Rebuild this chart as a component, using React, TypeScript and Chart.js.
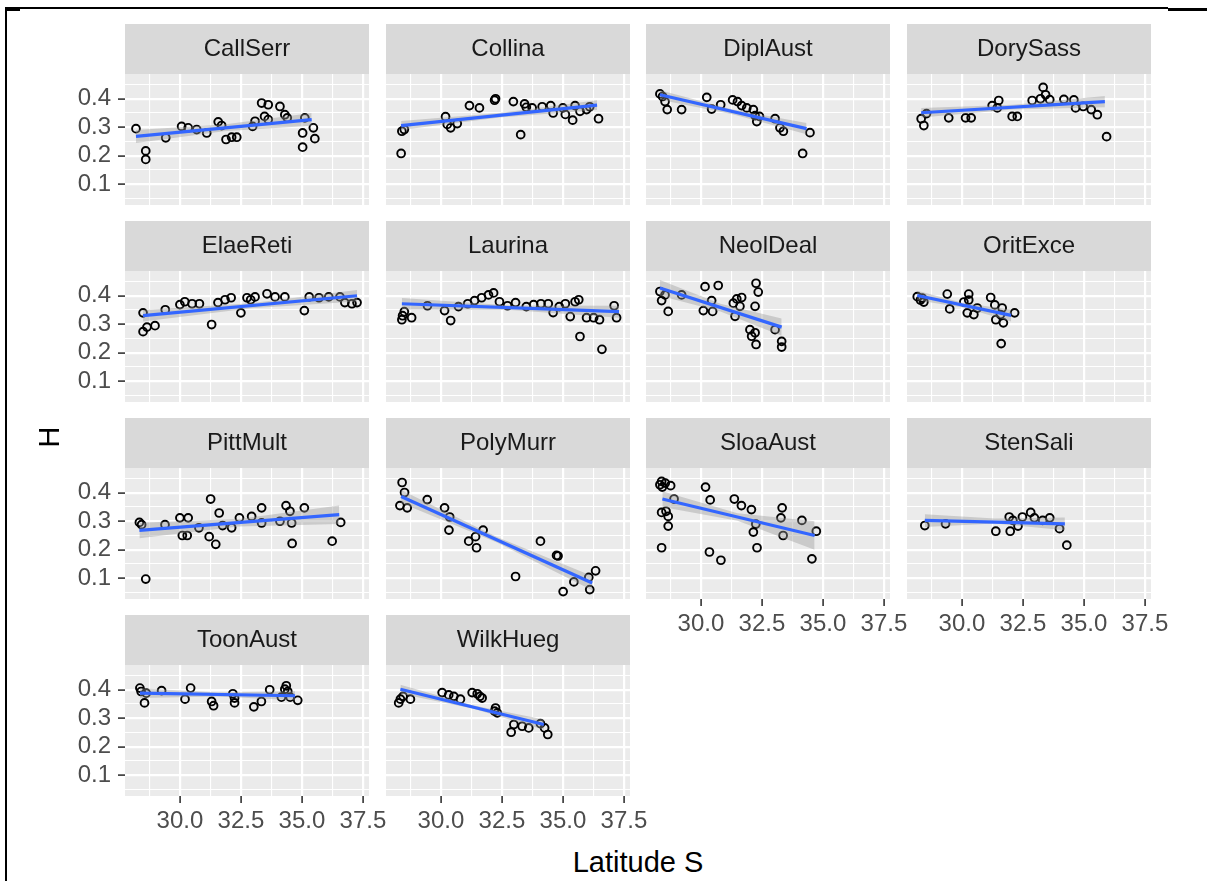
import React, { useEffect, useRef } from 'react';
import { Chart, registerables } from 'chart.js';

Chart.register(...registerables);

// ---------- data ----------
const latCallSerr = [28.2, 28.6, 28.6, 29.42, 30.07, 30.34, 30.69, 31.1, 31.57, 31.71, 31.89, 32.12, 32.33, 32.98, 33.08, 33.35, 33.47, 33.62, 33.62, 34.1, 34.3, 34.4, 35.12, 35.47, 35.03, 35.53, 35.03];
const hCallSerr = [0.295, 0.217, 0.187, 0.263, 0.303, 0.298, 0.292, 0.28, 0.319, 0.306, 0.257, 0.265, 0.265, 0.303, 0.321, 0.385, 0.338, 0.379, 0.327, 0.373, 0.344, 0.333, 0.333, 0.298, 0.28, 0.26, 0.23];
const fitXCallSerr = [28.2, 35.4];
const fitYCallSerr = [0.268, 0.327];
const bandXCallSerr = [28.2, 31.8, 35.4];
const bandHiCallSerr = [0.29, 0.31, 0.35];
const bandLoCallSerr = [0.245, 0.286, 0.305];

const latCollina = [28.37, 28.4, 28.5, 30.19, 30.26, 30.4, 30.67, 31.17, 31.58, 32.24, 32.2, 32.97, 33.27, 33.43, 33.5, 33.74, 34.15, 34.5, 34.6, 35.0, 35.1, 35.4, 35.5, 35.7, 35.97, 36.1, 36.46];
const hCollina = [0.208, 0.286, 0.292, 0.337, 0.31, 0.298, 0.313, 0.376, 0.368, 0.4, 0.395, 0.39, 0.274, 0.382, 0.37, 0.368, 0.372, 0.376, 0.35, 0.368, 0.345, 0.325, 0.376, 0.356, 0.362, 0.372, 0.33];
const fitXCollina = [28.37, 36.4];
const fitYCollina = [0.306, 0.378];
const bandXCollina = [28.37, 32.4, 36.4];
const bandHiCollina = [0.322, 0.35, 0.395];
const bandLoCollina = [0.29, 0.334, 0.361];

const latDiplAust = [28.32, 28.43, 28.53, 28.62, 29.21, 30.24, 30.44, 30.81, 31.3, 31.5, 31.67, 31.88, 32.15, 32.22, 32.29, 32.4, 33.04, 33.24, 33.38, 34.17, 34.47];
const hDiplAust = [0.417, 0.408, 0.39, 0.362, 0.362, 0.405, 0.364, 0.379, 0.396, 0.39, 0.376, 0.368, 0.362, 0.341, 0.32, 0.338, 0.33, 0.298, 0.286, 0.208, 0.281];
const fitXDiplAust = [28.32, 34.33];
const fitYDiplAust = [0.414, 0.295];
const bandXDiplAust = [28.32, 31.3, 34.33];
const bandHiDiplAust = [0.43, 0.362, 0.315];
const bandLoDiplAust = [0.397, 0.346, 0.275];

const latDorySass = [28.33, 28.44, 28.55, 29.46, 30.15, 30.38, 31.24, 31.51, 31.45, 32.06, 32.27, 32.88, 33.22, 33.33, 33.43, 33.6, 34.18, 34.59, 34.66, 34.97, 35.3, 35.55, 35.93];
const hDorySass = [0.33, 0.306, 0.348, 0.333, 0.333, 0.333, 0.376, 0.394, 0.368, 0.338, 0.338, 0.394, 0.4, 0.44, 0.414, 0.397, 0.398, 0.396, 0.368, 0.373, 0.362, 0.344, 0.267];
const fitXDorySass = [28.33, 35.86];
const fitYDorySass = [0.351, 0.39];
const bandXDorySass = [28.33, 32.1, 35.86];
const bandHiDorySass = [0.368, 0.379, 0.41];
const bandLoDorySass = [0.334, 0.362, 0.37];

const latElaeReti = [28.49, 28.65, 28.98, 28.49, 29.4, 30.0, 30.2, 30.5, 30.8, 31.3, 31.56, 31.85, 32.1, 32.5, 32.75, 32.9, 33.08, 33.57, 33.9, 34.3, 35.1, 35.3, 35.7, 36.1, 36.56, 36.76, 37.05, 37.26];
const hElaeReti = [0.274, 0.29, 0.295, 0.34, 0.351, 0.369, 0.379, 0.372, 0.372, 0.299, 0.376, 0.386, 0.393, 0.34, 0.393, 0.386, 0.396, 0.407, 0.396, 0.396, 0.348, 0.396, 0.393, 0.396, 0.396, 0.376, 0.372, 0.376];
const fitXElaeReti = [28.49, 37.26];
const fitYElaeReti = [0.33, 0.4];
const bandXElaeReti = [28.49, 32.9, 37.26];
const bandHiElaeReti = [0.35, 0.374, 0.42];
const bandLoElaeReti = [0.31, 0.356, 0.38];

const latLaurina = [28.4, 28.43, 28.5, 28.8, 29.45, 30.15, 30.4, 30.72, 31.1, 31.38, 31.67, 31.95, 32.16, 32.4, 32.73, 33.06, 33.5, 33.8, 34.1, 34.4, 34.6, 34.85, 35.1, 35.3, 35.5, 35.65, 35.7, 35.97, 36.26, 36.5, 36.6, 37.1, 37.2];
const hLaurina = [0.316, 0.33, 0.344, 0.323, 0.365, 0.348, 0.313, 0.362, 0.372, 0.383, 0.393, 0.403, 0.41, 0.379, 0.365, 0.376, 0.362, 0.369, 0.372, 0.372, 0.341, 0.362, 0.372, 0.327, 0.379, 0.386, 0.257, 0.323, 0.323, 0.316, 0.212, 0.365, 0.323];
const fitXLaurina = [28.4, 37.3];
const fitYLaurina = [0.372, 0.344];
const bandXLaurina = [28.4, 32.85, 37.3];
const bandHiLaurina = [0.392, 0.366, 0.365];
const bandLoLaurina = [0.352, 0.35, 0.323];

const latNeolDeal = [28.32, 28.39, 28.53, 28.66, 29.21, 30.17, 30.71, 30.1, 30.44, 30.48, 31.33, 31.47, 31.67, 31.4, 31.6, 32.22, 32.26, 32.35, 32.01, 32.22, 32.08, 32.26, 33.04, 33.31, 33.31];
const hNeolDeal = [0.415, 0.383, 0.403, 0.345, 0.403, 0.432, 0.436, 0.348, 0.383, 0.345, 0.374, 0.389, 0.394, 0.328, 0.363, 0.363, 0.444, 0.413, 0.281, 0.27, 0.258, 0.229, 0.281, 0.24, 0.22];
const fitXNeolDeal = [28.32, 33.31];
const fitYNeolDeal = [0.427, 0.29];
const bandXNeolDeal = [28.32, 30.8, 33.31];
const bandHiNeolDeal = [0.455, 0.372, 0.32];
const bandLoNeolDeal = [0.4, 0.345, 0.26];

const latOritExce = [28.17, 28.3, 28.37, 28.44, 29.4, 29.5, 30.08, 30.22, 30.28, 30.28, 30.49, 30.63, 31.18, 31.35, 31.39, 31.58, 31.61, 31.65, 31.7, 32.16];
const hOritExce = [0.397, 0.385, 0.392, 0.378, 0.406, 0.354, 0.378, 0.34, 0.406, 0.385, 0.334, 0.357, 0.394, 0.368, 0.316, 0.334, 0.232, 0.357, 0.305, 0.34];
const fitXOritExce = [28.17, 32.02];
const fitYOritExce = [0.401, 0.331];
const bandXOritExce = [28.17, 30.1, 32.02];
const bandHiOritExce = [0.418, 0.374, 0.352];
const bandLoOritExce = [0.384, 0.358, 0.31];

const latPittMult = [28.34, 28.43, 28.6, 29.39, 30.0, 30.1, 30.3, 30.34, 30.78, 31.2, 31.26, 31.47, 31.61, 31.75, 32.12, 32.44, 32.94, 33.35, 33.35, 34.1, 34.35, 34.51, 34.58, 34.6, 35.1, 36.24, 36.59];
const hPittMult = [0.296, 0.288, 0.097, 0.288, 0.312, 0.25, 0.25, 0.312, 0.277, 0.246, 0.378, 0.219, 0.329, 0.285, 0.277, 0.312, 0.317, 0.347, 0.294, 0.3, 0.355, 0.335, 0.294, 0.222, 0.347, 0.23, 0.296];
const fitXPittMult = [28.34, 36.53];
const fitYPittMult = [0.268, 0.323];
const bandXPittMult = [28.34, 32.4, 36.53];
const bandHiPittMult = [0.295, 0.308, 0.355];
const bandLoPittMult = [0.24, 0.282, 0.29];

const latPolyMurr = [28.32, 28.41, 28.51, 28.62, 29.44, 30.15, 30.33, 30.36, 31.14, 31.42, 31.46, 31.73, 33.06, 34.08, 34.74, 34.8, 35.01, 35.45, 36.06, 36.1, 36.34];
const hPolyMurr = [0.355, 0.436, 0.401, 0.347, 0.376, 0.347, 0.269, 0.315, 0.23, 0.246, 0.207, 0.269, 0.106, 0.23, 0.18, 0.178, 0.053, 0.087, 0.103, 0.06, 0.126];
const fitXPolyMurr = [28.37, 36.2];
const fitYPolyMurr = [0.387, 0.083];
const bandXPolyMurr = [28.37, 32.3, 36.2];
const bandHiPolyMurr = [0.41, 0.245, 0.108];
const bandLoPolyMurr = [0.364, 0.225, 0.058];

const latSloaAust = [28.32, 28.39, 28.42, 28.54, 28.76, 28.9, 28.39, 28.57, 28.66, 28.66, 28.39, 30.19, 30.38, 30.35, 30.82, 31.37, 31.66, 32.07, 32.15, 32.25, 32.3, 33.33, 33.28, 33.37, 34.14, 34.55, 34.73];
const hSloaAust = [0.428, 0.44, 0.42, 0.434, 0.425, 0.378, 0.331, 0.335, 0.317, 0.283, 0.207, 0.42, 0.375, 0.192, 0.163, 0.378, 0.355, 0.341, 0.262, 0.29, 0.207, 0.347, 0.312, 0.25, 0.303, 0.168, 0.265];
const fitXSloaAust = [28.42, 34.66];
const fitYSloaAust = [0.378, 0.25];
const bandXSloaAust = [28.42, 31.5, 34.66];
const bandHiSloaAust = [0.405, 0.328, 0.3];
const bandLoSloaAust = [0.35, 0.302, 0.2];

const latStenSali = [28.48, 29.33, 31.39, 31.98, 31.94, 32.09, 32.3, 32.48, 32.82, 32.97, 33.31, 33.6, 34.0, 34.3];
const hStenSali = [0.285, 0.291, 0.265, 0.265, 0.315, 0.303, 0.283, 0.315, 0.331, 0.312, 0.303, 0.312, 0.274, 0.216];
const fitXStenSali = [28.48, 34.22];
const fitYStenSali = [0.303, 0.291];
const bandXStenSali = [28.48, 31.35, 34.22];
const bandHiStenSali = [0.325, 0.31, 0.313];
const bandLoStenSali = [0.28, 0.292, 0.268];

const latToonAust = [28.36, 28.41, 28.55, 28.62, 29.25, 30.21, 30.44, 31.3, 31.38, 32.17, 32.24, 32.24, 33.03, 33.34, 33.68, 34.16, 34.3, 34.36, 34.42, 34.52, 34.83];
const hToonAust = [0.406, 0.394, 0.354, 0.388, 0.397, 0.367, 0.406, 0.359, 0.344, 0.386, 0.371, 0.354, 0.34, 0.359, 0.4, 0.374, 0.402, 0.414, 0.394, 0.374, 0.363];
const fitXToonAust = [28.36, 34.72];
const fitYToonAust = [0.388, 0.379];
const bandXToonAust = [28.36, 31.55, 34.72];
const bandHiToonAust = [0.405, 0.39, 0.395];
const bandLoToonAust = [0.371, 0.376, 0.363];

const latWilkHueg = [28.27, 28.34, 28.45, 28.75, 30.05, 30.32, 30.53, 30.8, 31.28, 31.49, 31.6, 31.69, 32.2, 32.24, 32.31, 32.88, 32.99, 33.33, 33.6, 34.08, 34.25, 34.38];
const hWilkHueg = [0.354, 0.367, 0.377, 0.367, 0.39, 0.382, 0.377, 0.367, 0.39, 0.386, 0.377, 0.371, 0.325, 0.336, 0.319, 0.251, 0.278, 0.272, 0.266, 0.281, 0.266, 0.243];
const fitXWilkHueg = [28.34, 34.22];
const fitYWilkHueg = [0.402, 0.278];
const bandXWilkHueg = [28.34, 31.3, 34.22];
const bandHiWilkHueg = [0.418, 0.346, 0.296];
const bandLoWilkHueg = [0.386, 0.334, 0.26];

const X_TICKS = [28.75, 30, 31.25, 32.5, 33.75, 35, 36.25, 37.5];
const X_MAJOR = [30, 32.5, 35, 37.5];
const Y_TICKS = [0.05, 0.1, 0.15, 0.2, 0.25, 0.3, 0.35, 0.4, 0.45];
const Y_MAJOR = [0.1, 0.2, 0.3, 0.4];
const X_MIN = 27.75;
const X_MAX = 37.75;
const Y_MIN = 0.027;
const Y_MAX = 0.487;

type Spec = { name: string; lat: number[]; h: number[]; fitX: number[]; fitY: number[]; bandX: number[]; bandHi: number[]; bandLo: number[] };

const PANELS: Spec[] = [
  { name: 'CallSerr', lat: latCallSerr, h: hCallSerr, fitX: fitXCallSerr, fitY: fitYCallSerr, bandX: bandXCallSerr, bandHi: bandHiCallSerr, bandLo: bandLoCallSerr },
  { name: 'Collina', lat: latCollina, h: hCollina, fitX: fitXCollina, fitY: fitYCollina, bandX: bandXCollina, bandHi: bandHiCollina, bandLo: bandLoCollina },
  { name: 'DiplAust', lat: latDiplAust, h: hDiplAust, fitX: fitXDiplAust, fitY: fitYDiplAust, bandX: bandXDiplAust, bandHi: bandHiDiplAust, bandLo: bandLoDiplAust },
  { name: 'DorySass', lat: latDorySass, h: hDorySass, fitX: fitXDorySass, fitY: fitYDorySass, bandX: bandXDorySass, bandHi: bandHiDorySass, bandLo: bandLoDorySass },
  { name: 'ElaeReti', lat: latElaeReti, h: hElaeReti, fitX: fitXElaeReti, fitY: fitYElaeReti, bandX: bandXElaeReti, bandHi: bandHiElaeReti, bandLo: bandLoElaeReti },
  { name: 'Laurina', lat: latLaurina, h: hLaurina, fitX: fitXLaurina, fitY: fitYLaurina, bandX: bandXLaurina, bandHi: bandHiLaurina, bandLo: bandLoLaurina },
  { name: 'NeolDeal', lat: latNeolDeal, h: hNeolDeal, fitX: fitXNeolDeal, fitY: fitYNeolDeal, bandX: bandXNeolDeal, bandHi: bandHiNeolDeal, bandLo: bandLoNeolDeal },
  { name: 'OritExce', lat: latOritExce, h: hOritExce, fitX: fitXOritExce, fitY: fitYOritExce, bandX: bandXOritExce, bandHi: bandHiOritExce, bandLo: bandLoOritExce },
  { name: 'PittMult', lat: latPittMult, h: hPittMult, fitX: fitXPittMult, fitY: fitYPittMult, bandX: bandXPittMult, bandHi: bandHiPittMult, bandLo: bandLoPittMult },
  { name: 'PolyMurr', lat: latPolyMurr, h: hPolyMurr, fitX: fitXPolyMurr, fitY: fitYPolyMurr, bandX: bandXPolyMurr, bandHi: bandHiPolyMurr, bandLo: bandLoPolyMurr },
  { name: 'SloaAust', lat: latSloaAust, h: hSloaAust, fitX: fitXSloaAust, fitY: fitYSloaAust, bandX: bandXSloaAust, bandHi: bandHiSloaAust, bandLo: bandLoSloaAust },
  { name: 'StenSali', lat: latStenSali, h: hStenSali, fitX: fitXStenSali, fitY: fitYStenSali, bandX: bandXStenSali, bandHi: bandHiStenSali, bandLo: bandLoStenSali },
  { name: 'ToonAust', lat: latToonAust, h: hToonAust, fitX: fitXToonAust, fitY: fitYToonAust, bandX: bandXToonAust, bandHi: bandHiToonAust, bandLo: bandLoToonAust },
  { name: 'WilkHueg', lat: latWilkHueg, h: hWilkHueg, fitX: fitXWilkHueg, fitY: fitYWilkHueg, bandX: bandXWilkHueg, bandHi: bandHiWilkHueg, bandLo: bandLoWilkHueg },
];

// ---------- layout ----------
const FONT = "'Liberation Sans', Arial, sans-serif";
const COL_LEFT = [125, 386, 646, 907];
const ROW_TOP = [24, 221, 418, 615];
const PLOT_W = 244;
const STRIP_H = 50;
const PLOT_H = 131;
const Y_AXIS_W = 60;
const X_AXIS_H = 40;
const RIGHT_PAD = 26;
const CW = Y_AXIS_W + PLOT_W + RIGHT_PAD;
const CH = STRIP_H + PLOT_H + X_AXIS_H;
const X_AXIS_PANELS = ['SloaAust', 'StenSali', 'ToonAust', 'WilkHueg'];

const near = (arr: number[], v: number) => arr.some((m) => Math.abs(m - v) < 1e-6);

const panelBg = {
  id: 'panelBg',
  beforeDraw(chart: any) {
    const { ctx, chartArea: a } = chart;
    ctx.save();
    ctx.fillStyle = '#D9D9D9';
    ctx.fillRect(a.left, a.top - STRIP_H, a.right - a.left, STRIP_H);
    ctx.fillStyle = '#EBEBEB';
    ctx.fillRect(a.left, a.top, a.right - a.left, a.bottom - a.top);
    ctx.restore();
  },
};

function Panel({ spec, index }: { spec: Spec; index: number }) {
  const ref = useRef<HTMLCanvasElement>(null);
  const col = index % 4;
  const row = Math.floor(index / 4);
  const showY = col === 0;
  const showX = X_AXIS_PANELS.includes(spec.name);

  useEffect(() => {
    const chart = new Chart(ref.current as HTMLCanvasElement, {
      type: 'scatter',
      data: {
        datasets: [
          {
            type: 'line',
            data: spec.fitX.map((x, i) => ({ x, y: spec.fitY[i] })),
            borderColor: '#3366FF',
            borderWidth: 3.2,
            pointRadius: 0,
            fill: false,
            order: 0,
          } as any,
          {
            type: 'line',
            data: spec.bandX.map((x, i) => ({ x, y: spec.bandHi[i] })),
            borderWidth: 0,
            borderColor: 'rgba(0,0,0,0)',
            pointRadius: 0,
            fill: false,
            order: 1,
          } as any,
          {
            type: 'line',
            data: spec.bandX.map((x, i) => ({ x, y: spec.bandLo[i] })),
            borderWidth: 0,
            borderColor: 'rgba(0,0,0,0)',
            backgroundColor: 'rgba(153,153,153,0.4)',
            pointRadius: 0,
            fill: '-1',
            order: 1,
          } as any,
          {
            type: 'scatter',
            data: spec.lat.map((x, i) => ({ x, y: spec.h[i] })),
            borderColor: '#000000',
            backgroundColor: 'rgba(0,0,0,0)',
            borderWidth: 1.9,
            pointRadius: 3.9,
            order: 3,
          } as any,
        ],
      },
      options: {
        animation: false,
        responsive: false,
        maintainAspectRatio: false,
        events: [],
        layout: { padding: { left: 0, right: RIGHT_PAD, top: 0, bottom: 0 } },
        plugins: {
          legend: { display: false },
          tooltip: { enabled: false },
          title: {
            display: true,
            text: spec.name,
            fullSize: false,
            color: '#1A1A1A',
            font: { family: FONT, size: 24, weight: 'normal', lineHeight: '24px' },
            padding: { top: 13, bottom: 13 },
          },
        },
        scales: {
          x: {
            type: 'linear',
            min: X_MIN,
            max: X_MAX,
            afterBuildTicks: (s: any) => {
              s.ticks = X_TICKS.map((v) => ({ value: v }));
            },
            afterFit: (s: any) => {
              s.height = X_AXIS_H;
            },
            border: { display: false },
            grid: {
              color: '#FFFFFF',
              lineWidth: (c: any) => (c.tick && near(X_MAJOR, c.tick.value) ? 2.2 : 1.1),
              drawTicks: showX,
              tickLength: 7,
              tickWidth: 1.6,
              tickColor: (c: any) => (c.tick && near(X_MAJOR, c.tick.value) ? '#333333' : 'rgba(0,0,0,0)'),
            },
            ticks: {
              display: showX,
              autoSkip: false,
              maxRotation: 0,
              minRotation: 0,
              padding: 4,
              color: '#4D4D4D',
              font: { family: FONT, size: 24 },
              callback: (v: any) => (near(X_MAJOR, Number(v)) ? Number(v).toFixed(1) : ''),
            },
          },
          y: {
            type: 'linear',
            min: Y_MIN,
            max: Y_MAX,
            afterBuildTicks: (s: any) => {
              s.ticks = Y_TICKS.map((v) => ({ value: v }));
            },
            afterFit: (s: any) => {
              s.width = Y_AXIS_W;
            },
            border: { display: false },
            grid: {
              color: '#FFFFFF',
              lineWidth: (c: any) => (c.tick && near(Y_MAJOR, c.tick.value) ? 2.2 : 1.1),
              drawTicks: showY,
              tickLength: 7,
              tickWidth: 1.6,
              tickColor: (c: any) => (c.tick && near(Y_MAJOR, c.tick.value) ? '#333333' : 'rgba(0,0,0,0)'),
            },
            ticks: {
              display: showY,
              autoSkip: false,
              padding: 7,
              color: '#4D4D4D',
              font: { family: FONT, size: 24 },
              callback: (v: any) => (near(Y_MAJOR, Number(v)) ? Number(v).toFixed(1) : ''),
            },
          },
        },
      } as any,
      plugins: [panelBg],
    });
    return () => chart.destroy();
  }, []);

  return (
    <canvas
      ref={ref}
      width={CW}
      height={CH}
      style={{ position: 'absolute', left: COL_LEFT[col] - Y_AXIS_W, top: ROW_TOP[row], width: CW, height: CH }}
    />
  );
}

export default function App() {
  return (
    <div style={{ position: 'absolute', left: 0, top: 0, width: 1207, height: 881, background: '#FFFFFF', overflow: 'hidden' }}>
      <div style={{ position: 'absolute', left: 5, top: 7, width: 1163, height: 874, borderTop: '2px solid #000', borderLeft: '2px solid #000', boxSizing: 'border-box' }} />
      <div style={{ position: 'absolute', left: 1168, top: 8, width: 39, height: 3, background: '#000' }} />
      <div style={{ position: 'absolute', left: 6, top: 8, width: 14, height: 3, background: '#000' }} />
      {PANELS.map((p, i) => (
        <Panel key={p.name} spec={p} index={i} />
      ))}
      <div
        style={{
          position: 'absolute',
          left: 125,
          top: 848,
          width: 1026,
          textAlign: 'center',
          fontFamily: FONT,
          fontSize: 29,
          lineHeight: '29px',
          color: '#000',
        }}
      >
        Latitude S
      </div>
      <div
        style={{
          position: 'absolute',
          left: 49 - 20,
          top: 437 - 15,
          width: 40,
          height: 30,
          textAlign: 'center',
          fontFamily: FONT,
          fontSize: 29,
          lineHeight: '30px',
          color: '#000',
          transform: 'rotate(-90deg)',
        }}
      >
        H
      </div>
    </div>
  );
}
